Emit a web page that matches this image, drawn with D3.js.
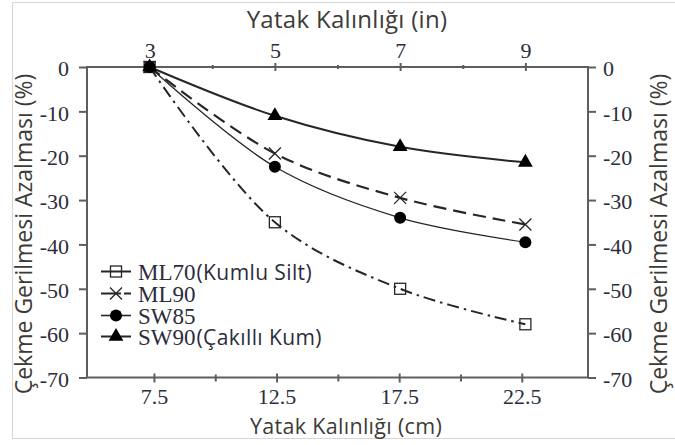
<!DOCTYPE html>
<html>
<head>
<meta charset="utf-8">
<script src="https://cdn.jsdelivr.net/npm/d3@7"></script>
<style>
  html, body { margin: 0; padding: 0; background: #fff; }
  svg { display: block; }
</style>
</head>
<body>
<svg id="chart" width="675" height="445"></svg>
<script>
// Bed thickness in inches (top axis) at which each material was tested
const thicknessIn = [3, 5, 7, 9];
// Tick values
const cmTicks = [7.5, 10, 12.5, 15, 17.5, 20, 22.5];
const cmLabels = [7.5, 12.5, 17.5, 22.5];
const inTicks = [3, 4, 5, 6, 7, 8, 9];
const inLabels = [3, 5, 7, 9];
const yTicks = [0, -10, -20, -30, -40, -50, -60, -70];

// Reduction in tensile stress (%) per material
const ml70 = [0, -35, -50, -58];
const ml90 = [0, -19.5, -29.5, -35.5];
const sw85 = [0, -22.5, -34, -39.5];
const sw90 = [0, -11, -18, -21.5];

const seriesNames = ["ML70", "ML90", "SW85", "SW90"];
const seriesNotes = ["(Kumlu Silt)", "", "", "(Çakıllı Kum)"];

const svg = d3.select("#chart");
const W = 675, H = 445;
const plotL = 87, plotR = 588, plotT = 67, plotB = 377.5;

const SERIF = '"Liberation Serif"';
const SANS = '"Open Sans"';
const numColor = "#2b2d3c";
const titleColor = "#3d3b36";
const axisColor = "#5e5e5e";
const ink = "#262626";

svg.append("rect").attr("width", W).attr("height", H).attr("fill", "#fff");
// outer frame
svg.append("rect")
  .attr("x", 12.5).attr("y", 2.5).attr("width", W).attr("height", 436)
  .attr("fill", "none").attr("stroke", "#d6d6d6").attr("stroke-width", 1);

const xTop = d3.scaleLinear().domain([2, 10]).range([plotL, plotR]);
const xBottom = d3.scaleLinear().domain([4.77, 25.2]).range([plotL, plotR]);
const y = d3.scaleLinear().domain([-70, 0]).range([plotB, plotT]);

// Axis box
svg.append("rect")
  .attr("x", plotL).attr("y", plotT)
  .attr("width", plotR - plotL).attr("height", plotB - plotT)
  .attr("fill", "none").attr("stroke", axisColor).attr("stroke-width", 2);

function styleAxis(sel) {
  sel.attr("font-family", null).attr("font-size", null);
  sel.select(".domain").remove();
  sel.selectAll(".tick line").attr("stroke", axisColor).attr("stroke-width", 2);
  sel.selectAll(".tick text")
    .style("font-family", SERIF).style("font-size", "22px").attr("fill", numColor);
}
const fmtY = d => d3.format("d")(d).replace("−", "-");

// Left axis
const axL = svg.append("g").attr("transform", `translate(${plotL},0)`)
  .call(d3.axisLeft(y).tickValues(yTicks).tickSize(8).tickPadding(10).tickFormat(fmtY));
styleAxis(axL);
axL.selectAll(".tick text").attr("dy", "0.4em");

// Right axis
const axR = svg.append("g").attr("transform", `translate(${plotR},0)`)
  .call(d3.axisRight(y).tickValues(yTicks).tickSize(8).tickPadding(7).tickFormat(fmtY));
styleAxis(axR);
axR.selectAll(".tick text").attr("dy", "0.4em");

// Bottom axis (cm)
const axB = svg.append("g").attr("transform", `translate(0,${plotB})`)
  .call(d3.axisBottom(xBottom).tickValues(cmTicks).tickSize(5).tickPadding(6)
    .tickFormat(d => cmLabels.includes(d) ? d3.format(".1f")(d) : ""));
styleAxis(axB);
axB.selectAll(".tick line").attr("y1", d => cmLabels.includes(d) ? -4 : -3)
  .attr("y2", d => cmLabels.includes(d) ? 5 : 4);

// Top axis (in)
const axT = svg.append("g").attr("transform", `translate(0,${plotT})`)
  .call(d3.axisTop(xTop).tickValues(inTicks).tickSize(4).tickPadding(5)
    .tickFormat(d => inLabels.includes(d) ? String(d) : ""));
styleAxis(axT);
axT.selectAll(".tick line").attr("y1", d => inLabels.includes(d) ? 4 : 2)
  .attr("y2", d => inLabels.includes(d) ? -4 : -2);

// Axis titles
function title(x, yy, rot, txt, size, spacing) {
  svg.append("text")
    .attr("transform", `translate(${x},${yy})` + (rot ? " rotate(-90)" : ""))
    .attr("text-anchor", "middle")
    .style("font-family", SANS).style("font-size", size + "px")
    .style("letter-spacing", spacing + "px")
    .attr("fill", titleColor)
    .text(txt);
}
title(347, 28, false, "Yatak Kalınlığı (in)", 24, 0.3);
title(346, 434, false, "Yatak Kalınlığı (cm)", 21.5, 0.3);
title(32, 234, true, "Çekme Gerilmesi Azalması (%)", 23, 0);
title(667, 234, true, "Çekme Gerilmesi Azalması (%)", 23, 0);

// Series definitions: line style + marker
const series = [
  { name: seriesNames[0], note: seriesNotes[0], values: ml70, width: 2, dash: "12,5,2.5,5", marker: "square" },
  { name: seriesNames[1], note: seriesNotes[1], values: ml90, width: 2.2, dash: "13,7", marker: "cross" },
  { name: seriesNames[2], note: seriesNotes[2], values: sw85, width: 1.3, dash: null, marker: "circle" },
  { name: seriesNames[3], note: seriesNotes[3], values: sw90, width: 2, dash: null, marker: "triangle" }
];

const line = d3.line()
  .x(d => xTop(d[0])).y(d => y(d[1]))
  .curve(d3.curveCatmullRom.alpha(0.5));

function drawMarker(sel, type, cx, cy) {
  if (type === "square") {
    sel.append("rect").attr("x", cx - 5.5).attr("y", cy - 5.5)
      .attr("width", 11).attr("height", 11)
      .attr("fill", "none").attr("stroke", ink).attr("stroke-width", 1.3);
  } else if (type === "cross") {
    sel.append("path")
      .attr("d", `M${cx - 6},${cy - 6}L${cx + 6},${cy + 6}M${cx - 6},${cy + 6}L${cx + 6},${cy - 6}`)
      .attr("stroke", ink).attr("stroke-width", 1.3).attr("fill", "none");
  } else if (type === "circle") {
    sel.append("circle").attr("cx", cx).attr("cy", cy).attr("r", 6).attr("fill", "#000");
  } else if (type === "triangle") {
    sel.append("path")
      .attr("transform", `translate(${cx},${cy})`)
      .attr("d", d3.symbol(d3.symbolTriangle, 95)())
      .attr("fill", "#000");
  }
}

const plot = svg.append("g");
series.forEach(s => {
  const pts = thicknessIn.map((t, i) => [t, s.values[i]]);
  plot.append("path").datum(pts).attr("d", line)
    .attr("fill", "none").attr("stroke", ink)
    .attr("stroke-width", s.width)
    .attr("stroke-dasharray", s.dash);
});
series.forEach(s => {
  const mg = plot.append("g");
  thicknessIn.forEach((t, i) => drawMarker(mg, s.marker, xTop(t), y(s.values[i])));
});

// Legend: serif material code followed by a sans description
const legend = svg.append("g");
const legendBase = [280, 302, 324, 345];
series.forEach((s, i) => {
  const ly = legendBase[i] - 8.5;
  legend.append("line").attr("x1", 101).attr("x2", 131).attr("y1", ly).attr("y2", ly)
    .attr("stroke", ink).attr("stroke-width", s.width === 1.3 ? 1.6 : 2)
    .attr("stroke-dasharray", s.marker === "cross" ? "20,3,7" : null);
  drawMarker(legend, s.marker, 116, ly);
  const codeText = legend.append("text").attr("x", 138).attr("y", legendBase[i])
    .attr("fill", numColor)
    .style("font-family", SERIF).style("font-size", "23px")
    .text(s.name);
  if (s.note) {
    const w = codeText.node().getComputedTextLength();
    legend.append("text").attr("x", 138 + w + 1).attr("y", legendBase[i])
      .attr("fill", numColor)
      .style("font-family", SANS).style("font-size", "21px")
      .style("letter-spacing", "0.4px").text(s.note);
  }
});
</script>
</body>
</html>
